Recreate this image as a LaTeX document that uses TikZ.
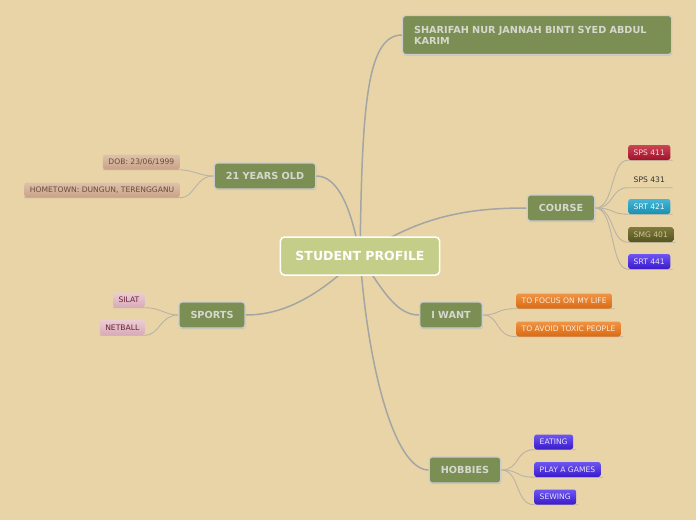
\documentclass[tikz,border=0pt]{standalone}
\usepackage{fontspec}
\setmainfont{DejaVu Sans}
\usepackage{xcolor}
\usetikzlibrary{positioning, shadows, backgrounds}

\definecolor{paper}{HTML}{E9D4A7}
\definecolor{olive}{HTML}{7B8F55}
\definecolor{lightolive}{HTML}{C4CE88}
\definecolor{topictext}{HTML}{D6D8CE}
\definecolor{mainline}{HTML}{A3A6A2}
\definecolor{subline}{HTML}{B9B3A4}
\definecolor{tantop}{HTML}{DDC2AA}   \definecolor{tanbot}{HTML}{C9A287}   \definecolor{tantext}{HTML}{6B4B3B}
\definecolor{pinktop}{HTML}{EBCDD3}  \definecolor{pinkbot}{HTML}{D8AAB8}  \definecolor{pinktext}{HTML}{6A2232}
\definecolor{redtop}{HTML}{CB4556}   \definecolor{redbot}{HTML}{A0122A}   \definecolor{redtext}{HTML}{F4D6D8}
\definecolor{tealtop}{HTML}{46B6D6}  \definecolor{tealbot}{HTML}{1790B2}  \definecolor{tealtext}{HTML}{F0F8FA}
\definecolor{mosstop}{HTML}{7E7B3C}  \definecolor{mossbot}{HTML}{55531F}  \definecolor{mosstext}{HTML}{CFC696}
\definecolor{bluetop}{HTML}{6E56F2}  \definecolor{bluebot}{HTML}{3A1ACA}  \definecolor{bluetext}{HTML}{E4E2F6}
\definecolor{orangetop}{HTML}{F09446}\definecolor{orangebot}{HTML}{D96A12}\definecolor{orangetext}{HTML}{FAEADA}

\begin{document}
\begin{tikzpicture}[x=1pt, y=-1pt,
  central/.style={draw=white, line width=1.5pt, fill=lightolive, rounded corners=4pt,
    text=white, font=\bfseries\fontsize{12.5}{14}\selectfont, inner xsep=15pt, minimum height=38pt},
  topic/.style={draw=black!20, line width=1.2pt, fill=olive, rounded corners=3pt,
    text=topictext, font=\bfseries\fontsize{9.7}{11}\selectfont, inner xsep=11.5pt, minimum height=26pt,
    drop shadow={shadow xshift=0.6pt, shadow yshift=-1.2pt, opacity=0.25}},
  leaf/.style={rounded corners=2.5pt, font=\fontsize{7.6}{8.5}\selectfont, inner xsep=5.5pt,
    minimum height=15pt},
  tanleaf/.style={leaf, top color=tantop, bottom color=tanbot, text=tantext},
  pinkleaf/.style={leaf, top color=pinktop, bottom color=pinkbot, text=pinktext},
  redleaf/.style={leaf, top color=redtop, bottom color=redbot, text=redtext},
  tealleaf/.style={leaf, top color=tealtop, bottom color=tealbot, text=tealtext},
  mossleaf/.style={leaf, top color=mosstop, bottom color=mossbot, text=mosstext},
  blueleaf/.style={leaf, top color=bluetop, bottom color=bluebot, text=bluetext},
  orangeleaf/.style={leaf, top color=orangetop, bottom color=orangebot, text=orangetext},
  branch/.style={draw=mainline, line width=1.5pt},
  twig/.style={draw=subline, line width=0.9pt}
]
% page
\useasboundingbox (0,0) rectangle (696,520);

% centre and main topics
\node[central] (root) at (360,256) {STUDENT PROFILE};
\node[topic, text width=246pt, align=left, minimum height=39pt, inner ysep=4pt, anchor=west]
  (name) at (402,35) {SHARIFAH NUR JANNAH BINTI SYED ABDUL\\KARIM};
\node[topic] (age) at (265,176) {21 YEARS OLD};
\node[topic] (course) at (561,208) {COURSE};
\node[topic] (sports) at (212,315) {SPORTS};
\node[topic] (want) at (451,315) {I WANT};
\node[topic] (hobby) at (465,470) {HOBBIES};

% left leaves
\node[tanleaf, anchor=east] (dob) at (180,162) {DOB: 23/06/1999};
\node[tanleaf, anchor=east] (home) at (180,190) {HOMETOWN: DUNGUN, TERENGGANU};
\node[pinkleaf, anchor=east] (silat) at (145,300) {SILAT};
\node[pinkleaf, anchor=east] (netball) at (145,327.5) {NETBALL};

% right leaves
\node[redleaf, anchor=west] (sps411) at (628,152.5) {SPS 411};
\node[leaf, anchor=west, text=black!80] (sps431) at (628,180) {SPS 431};
\node[tealleaf, anchor=west] (srt421) at (628,206.5) {SRT 421};
\node[mossleaf, anchor=west] (smg401) at (628,234.5) {SMG 401};
\node[blueleaf, anchor=west] (srt441) at (628,261.5) {SRT 441};
\node[orangeleaf, anchor=west] (focus) at (516,301) {TO FOCUS ON MY LIFE};
\node[orangeleaf, anchor=west] (toxic) at (516,329) {TO AVOID TOXIC PEOPLE};
\node[blueleaf, anchor=west] (eat) at (534,442) {EATING};
\node[blueleaf, anchor=west] (games) at (534,469.5) {PLAY A GAMES};
\node[blueleaf, anchor=west] (sew) at (534,497) {SEWING};

% connectors underneath
\begin{scope}[on background layer]
\fill[paper] (0,0) rectangle (696,520);
\draw[branch] (root.center) .. controls (362,110) and (366,35) .. (name.west);
\draw[branch] (root.center) .. controls (350,200) and (335,176) .. (age.east);
\draw[branch] (root.center) .. controls (420,215) and (470,208) .. (course.west);
\draw[branch] (root.center) .. controls (315,300) and (280,315) .. (sports.east);
\draw[branch] (root.center) .. controls (385,295) and (398,315) .. (want.west);
\draw[branch] (root.center) .. controls (368,370) and (395,470) .. (hobby.west);
% left twigs
\draw[twig] (age.west) .. controls (200,176) and (197,171) .. (dob.south east) -- (dob.south west);
\draw[twig] (age.west) .. controls (195,176) and (195,198) .. (home.south east) -- (home.south west);
\draw[twig] (sports.west) .. controls (165,315) and (160,307.5) .. (silat.south east) -- (silat.south west);
\draw[twig] (sports.west) .. controls (160,315) and (160,335) .. (netball.south east) -- (netball.south west);
% right twigs
\foreach \leafname in {sps411, sps431, srt421, smg401, srt441}
  \draw[twig] (course.east) .. controls (615,208) and (610,208 |- \leafname.south) .. (\leafname.south west) -- ([xshift=2pt]\leafname.south east);
\foreach \leafname in {focus, toxic}
  \draw[twig] (want.east) .. controls (500,315) and (495,315 |- \leafname.south) .. (\leafname.south west) -- ([xshift=2pt]\leafname.south east);
\foreach \leafname in {eat, games, sew}
  \draw[twig] (hobby.east) .. controls (520,470) and (515,470 |- \leafname.south) .. (\leafname.south west) -- ([xshift=2pt]\leafname.south east);
\end{scope}
\end{tikzpicture}
\end{document}
